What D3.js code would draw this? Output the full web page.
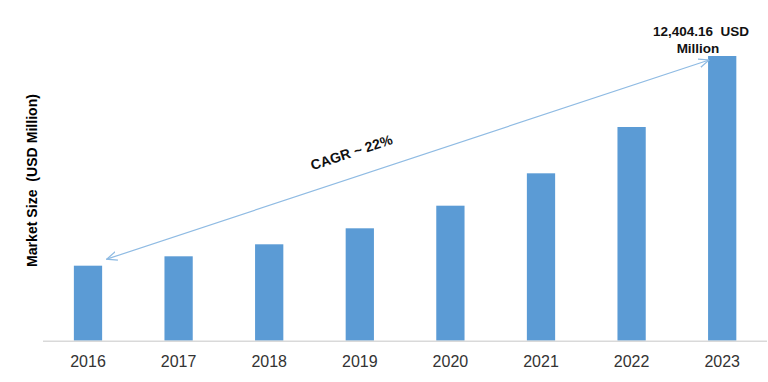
<!DOCTYPE html>
<html lang="en">
<head>
    <meta charset="UTF-8">
    <title>Market Size (USD Million)</title>
    <script src="https://d3js.org/d3.v7.min.js"></script>
    <style>
        body { margin: 0; background: #fff; }
        text { font-family: "Liberation Sans", Arial, sans-serif; white-space: pre; }
        .tick-label { font-size: 16px; fill: #333; }
        .y-title { font-size: 15px; font-weight: bold; fill: #000; }
        .note { font-size: 13.5px; font-weight: bold; fill: #111; }
        .cagr { font-size: 14px; font-weight: bold; fill: #111; }
    </style>
</head>
<body>
    <div id="chart"></div>
    <script>
        // data (last value is labelled)
        const years = ["2016", "2017", "2018", "2019", "2020", "2021", "2022", "2023"];
        const marketSize = [3268, 3677, 4200, 4897, 5882, 7293, 9311, 12404.16];
        const cagrLabel = "CAGR ~ 22%";
        const endLabel = ["12,404.16  USD", "Million"];

        const width = 768, height = 382;
        const svg = d3.select("#chart").append("svg")
            .attr("width", width)
            .attr("height", height);

        const x = d3.scaleBand()
            .domain(years)
            .range([42.7, 767.5])
            .paddingInner(0.688)
            .paddingOuter(0.344);

        const y = d3.scaleLinear()
            .domain([0, d3.max(marketSize)])
            .range([340.7, 56]);

        const data = years.map((yr, i) => ({ year: yr, value: marketSize[i] }));

        // bars
        svg.append("g")
            .selectAll("rect")
            .data(data)
            .join("rect")
            .attr("x", d => x(d.year))
            .attr("y", d => y(d.value))
            .attr("width", x.bandwidth())
            .attr("height", d => y(0) - y(d.value))
            .attr("fill", "#5b9bd5");

        // baseline
        svg.append("line")
            .attr("x1", 43).attr("x2", 767)
            .attr("y1", y(0) + 0.5).attr("y2", y(0) + 0.5)
            .attr("stroke", "#d9d9d9")
            .attr("stroke-width", 1.5);

        // x labels
        svg.append("g")
            .selectAll("text")
            .data(years)
            .join("text")
            .attr("class", "tick-label")
            .attr("x", d => x(d) + x.bandwidth() / 2)
            .attr("y", 367)
            .attr("text-anchor", "middle")
            .text(d => d);

        // y title
        svg.append("text")
            .attr("class", "y-title")
            .attr("transform", "translate(37,180.5) rotate(-90)")
            .attr("text-anchor", "middle")
            .attr("textLength", 173)
            .attr("lengthAdjust", "spacingAndGlyphs")
            .text("Market Size  (USD Million)");

        // CAGR arrow, both ends open chevrons
        svg.append("defs").append("marker")
            .attr("id", "chev")
            .attr("viewBox", "0 0 10 10")
            .attr("refX", 9.5).attr("refY", 5)
            .attr("markerWidth", 11).attr("markerHeight", 11)
            .attr("markerUnits", "userSpaceOnUse")
            .attr("orient", "auto-start-reverse")
            .append("path")
            .attr("d", "M0,1 L9.5,5 L0,9")
            .attr("fill", "none")
            .attr("stroke", "#8fbbe3")
            .attr("stroke-width", 1.1);

        const first = years[0], last = years[years.length - 1];
        const ax1 = x(first) + x.bandwidth() + 4.5, ay1 = y(marketSize[0]) - 6.5;
        const ax2 = x(last) + 1, ay2 = y(marketSize[marketSize.length - 1]) + 4;

        svg.append("line")
            .attr("x1", ax1).attr("y1", ay1)
            .attr("x2", ax2).attr("y2", ay2)
            .attr("stroke", "#8fbbe3")
            .attr("stroke-width", 1.2)
            .attr("marker-start", "url(#chev)")
            .attr("marker-end", "url(#chev)");

        const angle = Math.atan2(ay2 - ay1, ax2 - ax1) * 180 / Math.PI;
        svg.append("text")
            .attr("class", "cagr")
            .attr("transform", `translate(353,157) rotate(${angle})`)
            .attr("text-anchor", "middle")
            .text(cagrLabel);

        // end value label
        svg.append("g")
            .selectAll("text")
            .data(endLabel)
            .join("text")
            .attr("class", "note")
            .attr("x", (d, i) => i === 0 ? 701 : 698)
            .attr("y", (d, i) => 35.5 + i * 17.5)
            .attr("text-anchor", "middle")
            .text(d => d);
    </script>
</body>
</html>
